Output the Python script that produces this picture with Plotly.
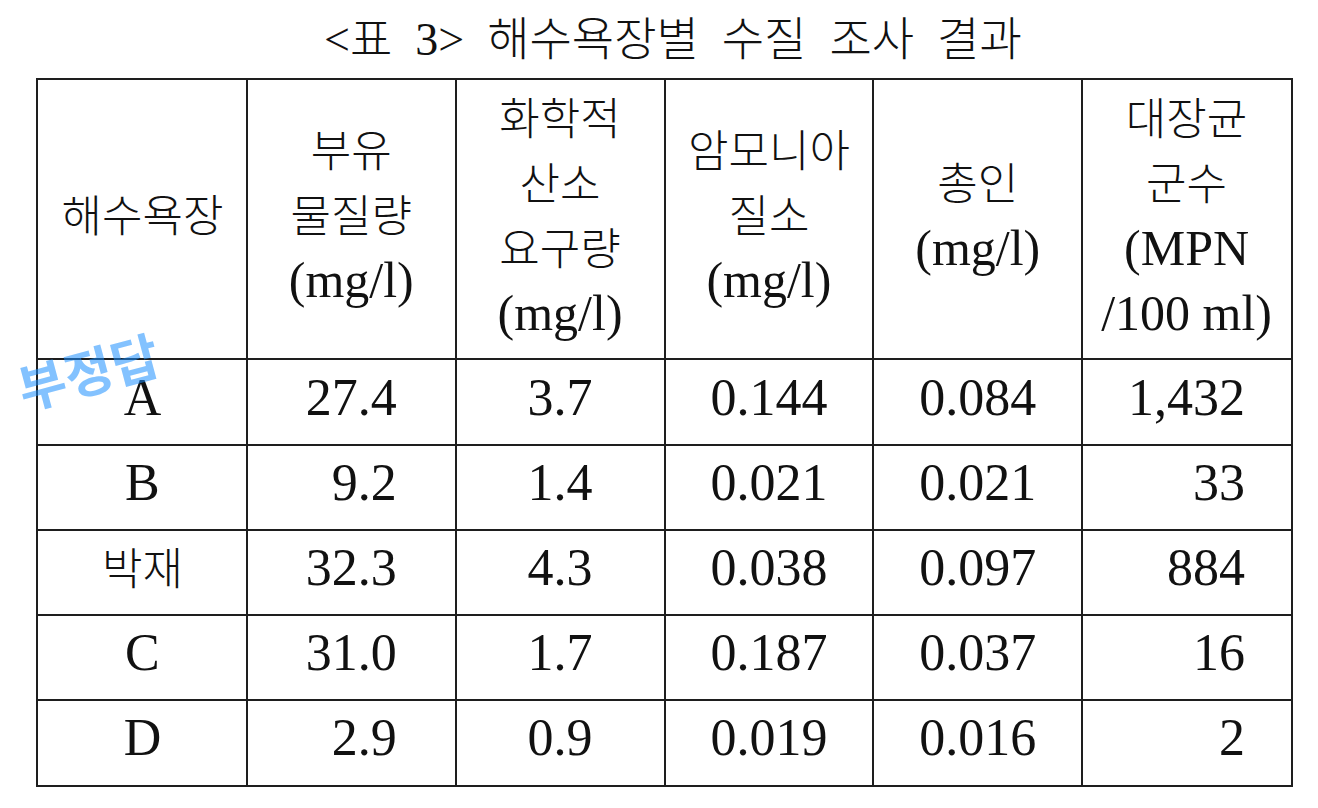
import plotly.graph_objects as go

# table content
title = "&lt;표\u00a0\u00a03&gt;\u00a0\u00a0해수욕장별\u00a0\u00a0수질\u00a0\u00a0조사\u00a0\u00a0결과"
headers = [
    ["해수욕장"],
    ["부유", "물질량", "(mg/l)"],
    ["화학적", "산소", "요구량", "(mg/l)"],
    ["암모니아", "질소", "(mg/l)"],
    ["총인", "(mg/l)"],
    ["대장균", "군수", "(MPN", "/100 ml)"],
]
beaches = ["A", "B", "박재", "C", "D"]
suspended = [27.4, 9.2, 32.3, 31.0, 2.9]
cod = [3.7, 1.4, 4.3, 1.7, 0.9]
ammonia = [0.144, 0.021, 0.038, 0.187, 0.019]
phosphorus = [0.084, 0.021, 0.097, 0.037, 0.016]
coliform = [1432, 33, 884, 16, 2]
stamp = "부정답"

FONT = "Liberation Serif, Noto Sans CJK KR"
LINE = "#1e1e1e"
HEADER_H = 279 / 85  # header height in body-row units


def hangul(s, size=44):
    # korean glyphs come out bigger than the serif digits, shrink them a bit
    if any("\uac00" <= ch <= "\ud7a3" for ch in s):
        return '<span style="font-size:%dpx;font-weight:300">%s</span>' % (size, s)
    return s


def right_align(col):
    nd = [sum(c.isdigit() for c in s) for s in col]
    npu = [len(s) - d for s, d in zip(col, nd)]
    return ["\u2007" * (max(nd) - d) + "\u2008" * (max(npu) - p) + s
            for s, d, p in zip(col, nd, npu)]


columns = [
    [hangul(b) for b in beaches],
    right_align(["%.1f" % v for v in suspended]),
    ["%.1f" % v for v in cod],
    ["%.3f" % v for v in ammonia],
    ["%.3f" % v for v in phosphorus],
    right_align(["{:,}".format(v) for v in coliform]),
]
ncol = len(columns)
nrow = len(beaches)

fig = go.Figure()

fig.add_trace(go.Scatter(
    x=[i + 0.5 for i in range(ncol)],
    y=[HEADER_H / 2] * ncol,
    mode="text",
    text=["<br>".join(hangul(s) for s in h) for h in headers],
    textposition="middle center",
    textfont=dict(family=FONT, size=50, color="#111"),
    hoverinfo="skip",
    showlegend=False,
))

bx, by, bt = [], [], []
for i, col in enumerate(columns):
    for r, val in enumerate(col):
        bx.append(i + 0.5)
        by.append(HEADER_H + r + 0.5)
        bt.append(val)

fig.add_trace(go.Scatter(
    x=bx, y=by, mode="text", text=bt,
    textposition="middle center",
    textfont=dict(family=FONT, size=52, color="#111"),
    hoverinfo="skip",
    showlegend=False,
))

fig.add_annotation(
    x=0.5064, xref="paper", y=1 + 40 / 705, yref="paper",
    text=title, showarrow=False, yanchor="middle",
    font=dict(family=FONT, size=46, color="#111", weight=300),
)

# blue handwritten mark over the first row
fig.add_annotation(
    x=0.24, y=HEADER_H + 0.12, text=stamp, showarrow=False,
    textangle=-15,
    font=dict(family="Noto Sans CJK KR", size=52, color="rgba(30,144,255,0.55)", weight="bold"),
)

fig.update_xaxes(
    range=[0, ncol], tickvals=list(range(1, ncol)),
    showgrid=True, gridcolor=LINE, gridwidth=2,
    showline=True, mirror=True, linecolor=LINE, linewidth=2,
    showticklabels=False, ticks="", zeroline=False, fixedrange=True,
)
fig.update_yaxes(
    range=[HEADER_H + nrow, 0], tickvals=[HEADER_H + r for r in range(nrow)],
    showgrid=True, gridcolor=LINE, gridwidth=2,
    showline=True, mirror=True, linecolor=LINE, linewidth=2,
    showticklabels=False, ticks="", zeroline=False, fixedrange=True,
)

# page body adds 8px around the figure, so the figure is 16px smaller
fig.update_layout(
    width=1302, height=792,
    margin=dict(l=30, r=19, t=72, b=15),
    paper_bgcolor="white", plot_bgcolor="white",
)

fig.write_html("out.html")
